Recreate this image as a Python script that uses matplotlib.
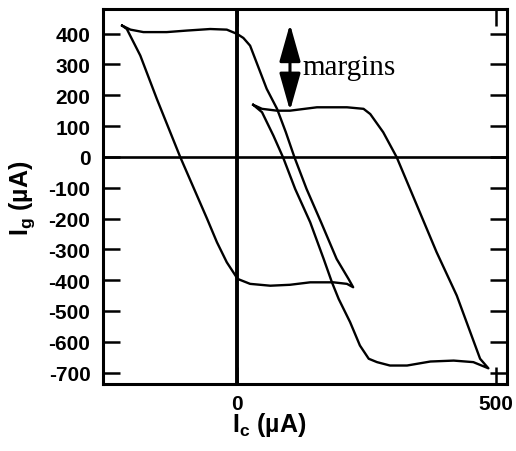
import matplotlib.pyplot as plt

plt.rcParams['font.family'] = ['Liberation Sans', 'DejaVu Sans']
plt.rcParams['mathtext.fontset'] = 'custom'
plt.rcParams['mathtext.rm'] = 'Liberation Sans:bold'
plt.rcParams['mathtext.default'] = 'rm'

# loop 1: top branch left->right, down, bottom branch right->left, back up
loop1_ic = [-222, -206, -181, -136, -97, -52, -20, 0, 12, 25, 57, 77, 94, 111, 134, 162, 192, 215, 224,
            212, 186, 141, 102, 64, 25, 1, -20, -39, -58, -110, -155, -187, -213, -222]
loop1_ig = [426, 413, 405, 405, 410, 415, 413, 399, 386, 361, 221, 156, 80, -3, -104, -212, -331, -396, -423,
            -412, -407, -407, -415, -418, -412, -396, -342, -277, -201, 0, 188, 329, 415, 426]

# loop 2: same order, shifted towards positive Ic
loop2_ic = [31, 48, 77, 102, 154, 212, 244, 257, 282, 308, 385, 424, 469, 485,
            456, 418, 373, 328, 295, 270, 254, 237, 218, 196, 183, 167, 141, 112, 89, 70, 48, 31]
loop2_ig = [169, 156, 150, 150, 161, 161, 156, 139, 80, -1, -309, -450, -655, -686,
            -666, -661, -664, -677, -677, -666, -655, -612, -536, -461, -407, -331, -212, -104, -3, 69, 145, 169]

yticks = [400, 300, 200, 100, 0, -100, -200, -300, -400, -500, -600, -700]
ytick_labels = ['400', '300', '200', '100', '0', '-100', '-200', '-300', '-400', '-500', '-600', '-700']
xticks = [0, 500]
xtick_labels = ['0', '500']

fig = plt.figure(figsize=(5.16, 4.52), dpi=100)
ax = fig.add_axes([0.1996, 0.1482, 0.783, 0.8297])

ax.plot(loop1_ic, loop1_ig, color='black', lw=1.7, solid_joinstyle='round')
ax.plot(loop2_ic, loop2_ig, color='black', lw=1.7, solid_joinstyle='round')

ax.axhline(0, color='black', lw=1.9)
ax.axvline(0, color='black', lw=2.8)

ax.set_xlim(-259, 521)
ax.set_ylim(-737, 480)

ax.set_yticks(yticks)
ax.set_yticklabels(ytick_labels)
ax.set_xticks(xticks)
ax.set_xticklabels(xtick_labels)
ax.tick_params(direction='in', length=12, width=1.8, labelsize=15, pad=9,
               left=True, right=True, top=True, bottom=True)
ax.tick_params(axis='x', pad=7)
for lab in ax.get_xticklabels() + ax.get_yticklabels():
    lab.set_fontweight('bold')
for sp in ax.spines.values():
    sp.set_linewidth(2.2)

# margin arrow and label
ax.annotate('', xy=(102, 431), xytext=(102, 150),
            arrowprops=dict(arrowstyle='<|-|>,head_length=2.3,head_width=0.65',
                            mutation_scale=10, lw=2.2, color='black',
                            shrinkA=0, shrinkB=0))
ax.text(127, 269, 'margins', family='Liberation Serif', fontsize=21, va='baseline', ha='left')

fig.text(0.4496, 0.045, 'I$_\\mathrm{c}$ (µA)', fontsize=18, fontweight='bold', ha='left', va='baseline')
fig.text(0.043, 0.561, 'I$_\\mathrm{g}$ (µA)', fontsize=18, fontweight='bold', rotation=90,
         ha='center', va='center')

fig.savefig('out.png', dpi=100)
